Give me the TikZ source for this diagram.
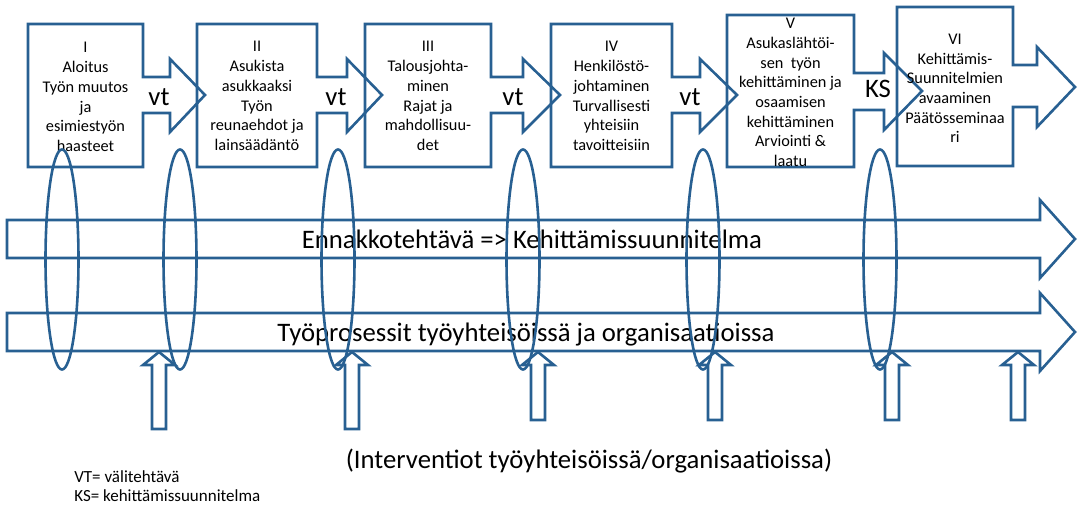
\documentclass[tikz,border=0pt]{standalone}
\usepackage{fontspec}
\setmainfont{Carlito}
\usepackage{tikz}
\usetikzlibrary{positioning}
\definecolor{lineblue}{RGB}{40,96,146}

\begin{document}
\begin{tikzpicture}
		[x=1pt,y=-1pt,line width=2.6pt,every node/.style={inner sep=0pt},
		phase/.style={align=center,font=\fontsize{16.3}{19.7}\selectfont},
		gap/.style={anchor=base,font=\fontsize{26.7}{32}\selectfont},
		band/.style={anchor=base,font=\fontsize{26.7}{32}\selectfont},
		note/.style={anchor=base west,font=\fontsize{17}{20}\selectfont}]
		\useasboundingbox (0,0) rectangle (1078,506);
		
		% phase boxes with their arrows
		\foreach \l/\r/\hb/\tp/\t/\b/\st/\sb/\ht/\hbo/\ty in 
		{28/143/170/205/24/167/77/113/59/132/95,
		 197/317/347/382/24/167/77/113/59/132/95,
		 365/491/523/560/24/167/77/113/59/132/95,
		 551/672/700/737/24/167/77/113/59/132/95,
		 727/854/884/922/15/167/73/110/53/130/91,
		 897/1013/1037/1075/7/166/65/107/47/127/87}
		\draw[lineblue] (\l,\t) -- (\r,\t) -- (\r,\st) -- (\hb,\st) -- (\hb,\ht) -- (\tp,\ty)
		  -- (\hb,\hbo) -- (\hb,\sb) -- (\r,\sb) -- (\r,\b) -- (\l,\b) -- cycle;
		
		\node[phase] (p1) at (85.5,97) {I\\Aloitus\\Työn muutos\\ja\\esimiestyön\\haasteet};
		\node[phase] (p2) at (257,96) {II\\Asukista\\asukkaaksi\\Työn\\reunaehdot ja\\lainsäädäntö};
		\node[phase] (p3) at (428,96) {III\\Talousjohta-\\minen\\Rajat ja\\mahdollisuu-\\det};
		\node[phase] (p4) at (611.5,96) {IV\\Henkilöstö-\\johtaminen\\Turvallisesti\\yhteisiin\\tavoitteisiin};
		\node[phase] (p5) at (790.5,92.5) {V\\Asukaslähtöi-\\sen\ \ työn\\kehittäminen ja\\osaamisen\\kehittäminen\\Arviointi \&\\laatu};
		\node[phase] (p6) at (955,88.5) {VI\\Kehittämis-\\Suunnitelmien\\avaaminen\\Päätösseminaa\\ri};
		
		\foreach \x/\lab [count=\i] in {159/vt, 336/vt, 513/vt, 690/vt}
		\node[gap] (g\i) at (\x,105) {\lab};
		\node[gap] (g5) at (878,97) {KS};
		
		% long arrows
		\foreach \t/\b/\ht/\hbo/\ty in {220/258/200/278/239, 313/351/293/371/332}
		\draw[lineblue] (7,\t) -- (1040,\t) -- (1040,\ht) -- (1075,\ty) -- (1040,\hbo)
		  -- (1040,\b) -- (7,\b) -- cycle;
		\node[band] (r1) at (532,248) {Ennakkotehtävä => Kehittämissuunnitelma};
		\node[band] (r2) at (526,341) {Työprosessit työyhteisöissä ja organisaatioissa};
		
		% rings
		\foreach \x in {62,180,338,523,703,880}
		\draw[lineblue] (\x,259.5) ellipse (16.5 and 110);
		
		% interventions
		\foreach \x/\b in {159/429, 352/429, 538/420, 715/420, 892/420, 1018/420}
		\draw[lineblue] (\x,352) -- ({\x+16},365) -- ({\x+7},365) -- ({\x+7},\b)
		  -- ({\x-7},\b) -- ({\x-7},365) -- ({\x-16},365) -- cycle;
		\node[band] (iv) at (589,468) {(Interventiot työyhteisöissä/organisaatioissa)};
		
		\node[note] (k1) at (73,482) {VT= välitehtävä};
		\node[note] (k2) at (73,501) {KS= kehittämissuunnitelma};
\end{tikzpicture}
\end{document}
